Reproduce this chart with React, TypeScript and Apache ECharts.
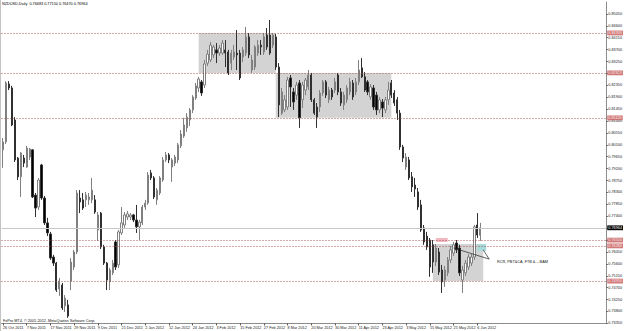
import React, { useEffect, useRef } from "react";
import * as echarts from "echarts";

const titleText = "NZDUSD,Daily  0.76683 0.77150 0.76470 0.76964";
const copyrightText = "FxPro MT4, \u00a9 2001-2012, MetaQuotes Software Corp.";
const noteText = "RCR, PBT&CA, FTB &... BAM";

const dateLabels = [
  "26 Oct 2011", "7 Nov 2011", "17 Nov 2011", "29 Nov 2011", "9 Dec 2011", "21 Dec 2011",
  "2 Jan 2012", "12 Jan 2012", "24 Jan 2012", "3 Feb 2012", "15 Feb 2012", "27 Feb 2012",
  "8 Mar 2012", "20 Mar 2012", "30 Mar 2012", "11 Apr 2012", "23 Apr 2012", "3 May 2012",
  "15 May 2012", "25 May 2012", "6 Jun 2012",
];
const BARS_PER_LABEL = 8;
const SLOT_COUNT = 204;

const opens = [
  0.7991, 0.8021, 0.8240, 0.8225, 0.8104, 0.7960, 0.7889, 0.7960, 0.7926, 0.7964,
  0.7991, 0.7820, 0.7775, 0.7934, 0.7809, 0.7715, 0.7673, 0.7586, 0.7563, 0.7465,
  0.7480, 0.7401, 0.7405, 0.7495, 0.7548, 0.7605, 0.7809, 0.7802, 0.7802, 0.7802,
  0.7802, 0.7802, 0.7688, 0.7752, 0.7624, 0.7563, 0.7492, 0.7526, 0.7643, 0.7556,
  0.7677, 0.7707, 0.7737, 0.7737, 0.7745, 0.7726, 0.7700, 0.7715, 0.7775, 0.7790,
  0.7904, 0.7885, 0.7802, 0.7828, 0.7877, 0.7953, 0.7972, 0.7926, 0.7941, 0.7953,
  0.8006, 0.8043, 0.8074, 0.8104, 0.8142, 0.8187, 0.8225, 0.8248, 0.8236, 0.8319,
  0.8331, 0.8350, 0.8369, 0.8357, 0.8357, 0.8369, 0.8361, 0.8319, 0.8342, 0.8357,
  0.8357, 0.8342, 0.8357, 0.8418, 0.8293, 0.8304, 0.8357, 0.8387, 0.8361, 0.8425,
  0.8425, 0.8387, 0.8418, 0.8304, 0.8130, 0.8142, 0.8153, 0.8263, 0.8210, 0.8198,
  0.8244, 0.8180, 0.8217, 0.8229, 0.8274, 0.8180, 0.8153, 0.8153, 0.8206, 0.8248,
  0.8180, 0.8217, 0.8217, 0.8274, 0.8210, 0.8161, 0.8180, 0.8210, 0.8244, 0.8210,
  0.8248, 0.8301, 0.8267, 0.8248, 0.8191, 0.8225, 0.8198, 0.8142, 0.8172, 0.8142,
  0.8180, 0.8244, 0.8206, 0.8180, 0.8130, 0.8002, 0.7926, 0.7953, 0.7889, 0.7858,
  0.7832, 0.7783, 0.7696, 0.7665, 0.7650, 0.7632, 0.7567, 0.7605, 0.7537, 0.7499,
  0.7526, 0.7575, 0.7601, 0.7639, 0.7620, 0.7499, 0.7526, 0.7548, 0.7563, 0.7586,
  0.7707, 0.76683,
];
const closes = [
  0.8021, 0.8244, 0.8225, 0.8085, 0.7953, 0.7889, 0.7979, 0.7941, 0.7998, 0.7994,
  0.7813, 0.7771, 0.7877, 0.7809, 0.7715, 0.7677, 0.7582, 0.7563, 0.7461, 0.7495,
  0.7393, 0.7431, 0.7363, 0.7567, 0.7605, 0.7828, 0.7794, 0.7771, 0.7820, 0.7813,
  0.7839, 0.7756, 0.7745, 0.7624, 0.7563, 0.7499, 0.7537, 0.7563, 0.7548, 0.7681,
  0.7715, 0.7745, 0.7749, 0.7745, 0.7726, 0.7700, 0.7718, 0.7775, 0.7790, 0.7896,
  0.7885, 0.7813, 0.7839, 0.7885, 0.7953, 0.7972, 0.7953, 0.7953, 0.7964, 0.8010,
  0.8051, 0.8085, 0.8115, 0.8142, 0.8191, 0.8233, 0.8259, 0.8206, 0.8316, 0.8353,
  0.8387, 0.8380, 0.8357, 0.8376, 0.8395, 0.8357, 0.8282, 0.8357, 0.8361, 0.8350,
  0.8263, 0.8369, 0.8418, 0.8350, 0.8331, 0.8380, 0.8387, 0.8380, 0.8418, 0.8380,
  0.8357, 0.8425, 0.8304, 0.8161, 0.8210, 0.8180, 0.8255, 0.8229, 0.8172, 0.8236,
  0.8112, 0.8236, 0.8255, 0.8274, 0.8180, 0.8130, 0.8115, 0.8206, 0.8248, 0.8198,
  0.8217, 0.8191, 0.8248, 0.8210, 0.8168, 0.8198, 0.8225, 0.8248, 0.8191, 0.8248,
  0.8293, 0.8267, 0.8217, 0.8210, 0.8229, 0.8153, 0.8142, 0.8180, 0.8149, 0.8180,
  0.8217, 0.8198, 0.8168, 0.8130, 0.8002, 0.7960, 0.7964, 0.7885, 0.7851, 0.7843,
  0.7775, 0.7688, 0.7643, 0.7624, 0.7548, 0.7567, 0.7620, 0.7529, 0.7492, 0.7537,
  0.7575, 0.7613, 0.7632, 0.7613, 0.7526, 0.7537, 0.7563, 0.7586, 0.7586, 0.7700,
  0.7669, 0.76964,
];
const highs = [
  0.8036, 0.8251, 0.8251, 0.8233, 0.8115, 0.7964, 0.7983, 0.7972, 0.8006, 0.7998,
  0.7994, 0.7828, 0.7885, 0.7938, 0.7817, 0.7734, 0.7681, 0.7594, 0.7567, 0.7507,
  0.7488, 0.7442, 0.7424, 0.7582, 0.7613, 0.7839, 0.7839, 0.7828, 0.7832, 0.7828,
  0.7885, 0.7820, 0.7756, 0.7756, 0.7632, 0.7567, 0.7545, 0.7575, 0.7650, 0.7688,
  0.7775, 0.7756, 0.7760, 0.7752, 0.7749, 0.7783, 0.7726, 0.7783, 0.7802, 0.7907,
  0.7915, 0.7892, 0.7847, 0.7892, 0.7964, 0.7983, 0.7979, 0.7960, 0.7972, 0.8017,
  0.8066, 0.8112, 0.8130, 0.8149, 0.8198, 0.8244, 0.8267, 0.8255, 0.8331, 0.8369,
  0.8399, 0.8387, 0.8395, 0.8387, 0.8406, 0.8406, 0.8369, 0.8369, 0.8387, 0.8444,
  0.8369, 0.8380, 0.8456, 0.8433, 0.8350, 0.8387, 0.8406, 0.8406, 0.8433, 0.8452,
  0.8482, 0.8433, 0.8429, 0.8319, 0.8225, 0.8198, 0.8267, 0.8274, 0.8225, 0.8248,
  0.8255, 0.8248, 0.8263, 0.8293, 0.8282, 0.8187, 0.8168, 0.8217, 0.8255, 0.8255,
  0.8229, 0.8225, 0.8263, 0.8282, 0.8225, 0.8210, 0.8236, 0.8263, 0.8255, 0.8263,
  0.8331, 0.8338, 0.8285, 0.8255, 0.8240, 0.8236, 0.8210, 0.8191, 0.8183, 0.8191,
  0.8248, 0.8255, 0.8217, 0.8191, 0.8142, 0.8010, 0.7979, 0.7964, 0.7907, 0.7885,
  0.7847, 0.7802, 0.7707, 0.7681, 0.7658, 0.7650, 0.7635, 0.7620, 0.7556, 0.7552,
  0.7586, 0.7628, 0.7643, 0.7650, 0.7632, 0.7552, 0.7575, 0.7597, 0.7597, 0.7707,
  0.7752, 0.77150,
];
const lows = [
  0.7923, 0.8013, 0.8217, 0.8081, 0.7945, 0.7877, 0.7813, 0.7926, 0.7923, 0.7953,
  0.7809, 0.7737, 0.7764, 0.7802, 0.7707, 0.7665, 0.7575, 0.7552, 0.7454, 0.7439,
  0.7386, 0.7378, 0.7356, 0.7461, 0.7537, 0.7597, 0.7752, 0.7764, 0.7775, 0.7783,
  0.7790, 0.7749, 0.7647, 0.7616, 0.7556, 0.7461, 0.7461, 0.7518, 0.7537, 0.7545,
  0.7669, 0.7696, 0.7726, 0.7726, 0.7718, 0.7677, 0.7650, 0.7707, 0.7764, 0.7783,
  0.7877, 0.7805, 0.7783, 0.7820, 0.7870, 0.7945, 0.7941, 0.7870, 0.7930, 0.7941,
  0.7998, 0.8036, 0.8059, 0.8081, 0.8130, 0.8180, 0.8210, 0.8195, 0.8225, 0.8308,
  0.8323, 0.8338, 0.8319, 0.8346, 0.8350, 0.8304, 0.8274, 0.8293, 0.8331, 0.8293,
  0.8255, 0.8323, 0.8346, 0.8338, 0.8282, 0.8293, 0.8346, 0.8350, 0.8350, 0.8369,
  0.8350, 0.8376, 0.8293, 0.8115, 0.8123, 0.8134, 0.8142, 0.8153, 0.8142, 0.8180,
  0.8074, 0.8149, 0.8198, 0.8217, 0.8172, 0.8123, 0.8074, 0.8134, 0.8195, 0.8187,
  0.8168, 0.8180, 0.8206, 0.8198, 0.8157, 0.8142, 0.8168, 0.8198, 0.8180, 0.8198,
  0.8236, 0.8263, 0.8210, 0.8198, 0.8180, 0.8142, 0.8123, 0.8130, 0.8115, 0.8130,
  0.8161, 0.8187, 0.8157, 0.8104, 0.7991, 0.7945, 0.7915, 0.7877, 0.7832, 0.7813,
  0.7764, 0.7681, 0.7632, 0.7613, 0.7511, 0.7526, 0.7552, 0.7518, 0.7450, 0.7473,
  0.7514, 0.7563, 0.7590, 0.7601, 0.7514, 0.7450, 0.7514, 0.7537, 0.7552, 0.7575,
  0.7658, 0.76470,
];

// price axis
const priceMin = 0.7335;
const priceMax = 0.855;
const priceStep = 0.0045;

// horizontal dotted levels and current price
const levels = [0.8433, 0.8282, 0.8112, 0.765, 0.7628, 0.7495];
const currentPrice = 0.76964;

// shaded zones: [startBar, endBar, topPrice, bottomPrice]
const zones = [
  [66, 92, 0.8433, 0.8282],
  [92, 131, 0.8282, 0.8112],
  [145, 162, 0.7635, 0.7495],
];
const pinkMarks = [[146, 150, 0.7658, 0.7643]];
const tealMarks = [
  [151, 154, 0.7635, 0.7616],
  [160, 163, 0.7635, 0.7609],
];
// trend lines: [bar1, price1, bar2, price2]
const trendLines = [
  [152, 0.762, 164, 0.7578],
  [162, 0.7613, 164, 0.7578],
];

const FONT = "Liberation Sans";
const FS = 3.8;

export default function App() {
  const ref = useRef<HTMLDivElement>(null);
  useEffect(() => {
    if (!ref.current) return;
    const chart = echarts.init(ref.current, undefined, { renderer: "svg" });
    const categories = Array.from({ length: SLOT_COUNT }, (_, i) => String(i));
    const rows = opens.map((o, i) => [o, closes[i], lows[i], highs[i]]);
    const showDateIdx = (idx: number) =>
      idx % BARS_PER_LABEL === 0 && idx / BARS_PER_LABEL < dateLabels.length;

    const levelLines = levels.map((v) => ({
      yAxis: v,
      lineStyle: { type: [1, 2], color: "#a04848", width: 1, opacity: 0.9 },
      label: {
        show: true,
        position: "end",
        distance: 1,
        formatter: v.toFixed(5),
        backgroundColor: "#cd6a6a",
        color: "#ffffff",
        fontSize: FS,
        fontFamily: FONT,
        padding: [0.6, 1, 0.2, 1],
      },
    }));
    const priceLine = {
      yAxis: currentPrice,
      lineStyle: { type: "solid", color: "#c8c8c8", width: 1 },
      label: {
        show: true,
        position: "end",
        distance: 1,
        formatter: currentPrice.toFixed(5),
        backgroundColor: "#000000",
        color: "#ffffff",
        fontSize: FS,
        fontFamily: FONT,
        padding: [0.6, 1, 0.2, 1],
      },
    };
    const trendItems = trendLines.map((t) => [
      {
        coord: [t[0], t[1]],
        lineStyle: { type: "solid", color: "#222", width: 0.7 },
        label: { show: false },
      },
      { coord: [t[2], t[3]] },
    ]);
    const area = (z: number[], color: string) => [
      { xAxis: z[0], yAxis: z[2], itemStyle: { color } },
      { xAxis: z[1], yAxis: z[3] },
    ];

    chart.setOption({
      animation: false,
      backgroundColor: "#ffffff",
      title: {
        text: titleText,
        left: 2,
        top: 2,
        padding: 0,
        textStyle: { fontSize: FS, fontWeight: "normal", color: "#000", fontFamily: FONT },
      },
      grid: { left: 0, top: 2, width: 612, height: 321.4 },
      xAxis: {
        type: "category",
        data: categories,
        boundaryGap: true,
        axisLine: { show: true, lineStyle: { color: "#8c8c8c", width: 1 } },
        axisTick: {
          show: true,
          alignWithLabel: true,
          interval: (idx: number) => showDateIdx(idx),
          length: 2,
          lineStyle: { color: "#555" },
        },
        axisLabel: {
          interval: (idx: number) => showDateIdx(idx),
          formatter: (_v: string, idx: number) => dateLabels[idx / BARS_PER_LABEL] ?? "",
          align: "left",
          margin: 2.5,
          fontSize: FS,
          fontFamily: FONT,
          color: "#222",
        },
        splitLine: { show: false },
      },
      yAxis: {
        type: "value",
        position: "right",
        min: priceMin,
        max: priceMax,
        interval: priceStep,
        scale: true,
        axisLine: { show: true, lineStyle: { color: "#8c8c8c", width: 1 } },
        axisTick: { show: true, length: 1.5, lineStyle: { color: "#555" } },
        axisLabel: {
          formatter: (v: number) => v.toFixed(5),
          showMaxLabel: false,
          margin: 2,
          fontSize: FS,
          fontFamily: FONT,
          color: "#222",
        },
        splitLine: { show: false },
      },
      series: [
        {
          type: "candlestick",
          data: rows,
          barWidth: 1.8,
          itemStyle: {
            color: "#ffffff",
            color0: "#000000",
            borderColor: "#808080",
            borderColor0: "#303030",
            borderWidth: 1,
          },
          markArea: {
            silent: true,
            data: [
              ...zones.map((z) => area(z, "#d3d3d3")),
              ...pinkMarks.map((z) => area(z, "#f2b8c2")),
              ...tealMarks.map((z) => area(z, "#a9dada")),
            ],
          },
          markLine: {
            silent: true,
            symbol: "none",
            precision: 5,
            data: [...levelLines, priceLine, ...trendItems],
          },
        },
      ],
      graphic: [
        {
          type: "rect",
          left: 0,
          top: 0,
          shape: { width: 1, height: 331 },
          style: { fill: "#c4c4c4" },
          silent: true,
        },
        {
          type: "text",
          left: 3,
          top: 318.5,
          style: { text: copyrightText, fontSize: FS, fontFamily: FONT, fill: "#111" },
          silent: true,
        },
        {
          type: "text",
          left: 497,
          top: 260,
          style: { text: noteText, fontSize: FS, fontFamily: FONT, fill: "#111" },
          silent: true,
        },
      ],
    });
    return () => chart.dispose();
  }, []);
  return (
    <div
      ref={ref}
      style={{ position: "absolute", left: 0, top: 0, width: 625, height: 331, background: "#fff" }}
    />
  );
}
